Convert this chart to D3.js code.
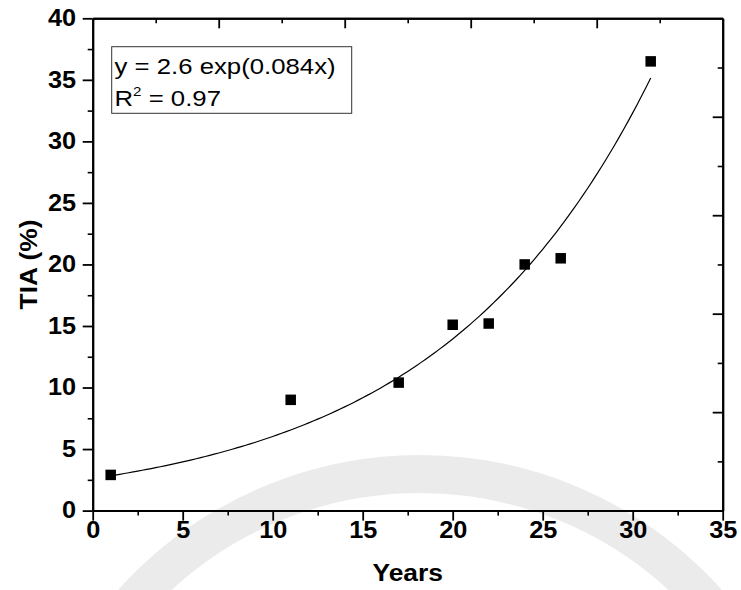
<!DOCTYPE html>
<html>
<head>
<meta charset="utf-8">
<script src="https://cdn.jsdelivr.net/npm/d3@7"></script>
<style>
  body { margin: 0; background: #fff; }
  svg { display: block; font-family: Arial, 'Liberation Sans', Helvetica, sans-serif; }
  .tick text { font-weight: bold; font-size: 23px; fill: #000; }
  .domain, .tick line { stroke: #000; }
</style>
</head>
<body>
<script>
const width = 741
const height = 590
const margin = { top: 18.3, right: 18.3, bottom: 79.4, left: 92.7 }
// the source figure's lettering is a little wide
const stretch = 1.1

// data
const years = [1, 11, 17, 20, 22, 24, 26, 31]
const tia = [2.9, 9.0, 10.4, 15.1, 15.2, 20.0, 20.5, 36.5]
const fitA = 2.6
const fitB = 0.084
const xTicks = [0, 5, 10, 15, 20, 25, 30, 35]
const xMinor = [2.5, 7.5, 12.5, 17.5, 22.5, 27.5, 32.5]
const yTicks = [0, 5, 10, 15, 20, 25, 30, 35, 40]
const yMinor = [2.5, 7.5, 12.5, 17.5, 22.5, 27.5, 32.5, 37.5]
// opposite axes carry their own 0..10 tick scale
const sideMajor = [2, 4, 6, 8]
const sideMinor = [1, 3, 5, 7, 9]
const eqLines = ['y = 2.6 exp(0.084x)', 'R', '2', ' = 0.97']

const svg = d3.select('body').append('svg')
  .attr('width', width)
  .attr('height', height)

const x = d3.scaleLinear().domain([0, 35]).range([margin.left, width - margin.right])
const y = d3.scaleLinear().domain([0, 40]).range([height - margin.bottom, margin.top])
const side = d3.scaleLinear().domain([0, 10]).range(x.range())
const sideY = d3.scaleLinear().domain([0, 10]).range(y.range())

// faint watermark ring in the background
svg.append('circle')
  .attr('cx', 420)
  .attr('cy', 860)
  .attr('r', 386)
  .attr('fill', 'none')
  .attr('stroke', '#ebebeb')
  .attr('stroke-width', 38)

function styleAxis(g, w) {
  g.select('.domain').attr('stroke-width', 2)
  g.selectAll('.tick line').attr('stroke-width', w)
}

// bottom
svg.append('g')
  .attr('transform', `translate(0,${y(0)})`)
  .call(d3.axisBottom(x).tickValues(xMinor).tickSize(5).tickSizeOuter(0).tickFormat(''))
  .call(g => styleAxis(g, 1.6))
svg.append('g')
  .attr('transform', `translate(0,${y(0)})`)
  .call(d3.axisBottom(x).tickValues(xTicks).tickSize(10).tickSizeOuter(0).tickPadding(1.5))
  .call(g => styleAxis(g, 1.8))
  .call(g => g.selectAll('.tick text').attr('transform', `scale(${stretch},1)`))

// left
svg.append('g')
  .attr('transform', `translate(${x(0)},0)`)
  .call(d3.axisLeft(y).tickValues(yMinor).tickSize(5).tickSizeOuter(0).tickFormat(''))
  .call(g => styleAxis(g, 1.6))
svg.append('g')
  .attr('transform', `translate(${x(0)},0)`)
  .call(d3.axisLeft(y).tickValues(yTicks).tickSize(10).tickSizeOuter(0))
  .call(g => styleAxis(g, 1.8))
  .call(g => g.selectAll('.tick text')
    .attr('x', -16.7 / stretch)
    .attr('transform', `scale(${stretch},1)`))

// top, ticks pointing in
svg.append('g')
  .attr('transform', `translate(0,${y(40)})`)
  .call(d3.axisBottom(side).tickValues(sideMinor).tickSize(5).tickSizeOuter(0).tickFormat(''))
  .call(g => styleAxis(g, 1.6))
svg.append('g')
  .attr('transform', `translate(0,${y(40)})`)
  .call(d3.axisBottom(side).tickValues(sideMajor).tickSize(10).tickSizeOuter(0).tickFormat(''))
  .call(g => styleAxis(g, 1.8))

// right, ticks pointing in
svg.append('g')
  .attr('transform', `translate(${x(35)},0)`)
  .call(d3.axisLeft(sideY).tickValues(sideMinor).tickSize(5).tickSizeOuter(0).tickFormat(''))
  .call(g => styleAxis(g, 1.6))
svg.append('g')
  .attr('transform', `translate(${x(35)},0)`)
  .call(d3.axisLeft(sideY).tickValues(sideMajor).tickSize(10).tickSizeOuter(0).tickFormat(''))
  .call(g => styleAxis(g, 1.8))

// fitted curve
const fitXs = d3.range(years[0], years[years.length - 1] + 0.001, 0.25)
const line = d3.line()
  .x(d => x(d))
  .y(d => y(fitA * Math.exp(fitB * d)))
svg.append('path')
  .datum(fitXs)
  .attr('d', line)
  .attr('fill', 'none')
  .attr('stroke', '#000')
  .attr('stroke-width', 1.2)

// points
const sq = 10.5
svg.append('g').selectAll('rect')
  .data(years)
  .join('rect')
  .attr('x', d => x(d) - sq / 2)
  .attr('y', (d, i) => y(tia[i]) - sq / 2)
  .attr('width', sq)
  .attr('height', sq)
  .attr('fill', '#000')

// equation box
svg.append('rect')
  .attr('x', 111.7)
  .attr('y', 46.7)
  .attr('width', 240)
  .attr('height', 66.6)
  .attr('fill', '#fff')
  .attr('stroke', '#333')
  .attr('stroke-width', 1)
const eq = svg.append('g')
  .attr('transform', `translate(114.5,0) scale(1.12,1)`)
eq.append('text')
  .attr('x', 0)
  .attr('y', 74.5)
  .attr('font-size', 23)
  .text(eqLines[0])
const r2 = eq.append('text')
  .attr('x', 0)
  .attr('y', 106)
  .attr('font-size', 23)
r2.append('tspan').text(eqLines[1])
r2.append('tspan').attr('font-size', 13.5).attr('dy', -9.5).text(eqLines[2])
r2.append('tspan').attr('dy', 9.5).text(eqLines[3])

// axis titles
svg.append('text')
  .attr('transform', `translate(${x(17.5)},581) scale(${stretch},1)`)
  .attr('text-anchor', 'middle')
  .attr('font-weight', 'bold')
  .attr('font-size', 24)
  .text('Years')
svg.append('text')
  .attr('transform', `translate(37,${(y(0) + y(40)) / 2}) rotate(-90) scale(${stretch},1)`)
  .attr('text-anchor', 'middle')
  .attr('font-weight', 'bold')
  .attr('font-size', 24)
  .text('TIA (%)')
</script>
</body>
</html>
